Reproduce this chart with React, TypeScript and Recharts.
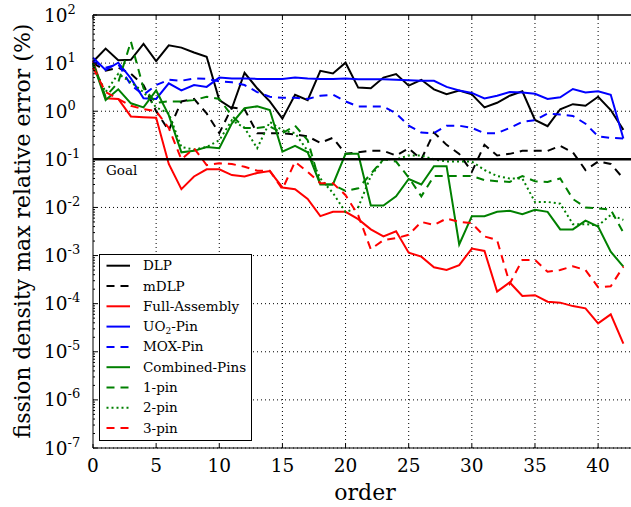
import React from "react";
import { LineChart, Line, XAxis, YAxis, ReferenceLine, Legend, Label } from "recharts";

// expansion order on the x axis
const ORDER = [
  0, 1, 2, 3, 4, 5, 6, 7, 8, 9, 10, 11, 12, 13, 14, 15, 16, 17, 18, 19, 20, 21,
  22, 23, 24, 25, 26, 27, 28, 29, 30, 31, 32, 33, 34, 35, 36, 37, 38, 39, 40, 41, 42,
];

// max relative error (%) per order
const DLP = [
  10.7, 20, 11.5, 11.7, 25, 11, 23.5, 21, 16.6, 13.5, 1.7, 1.15, 6.3, 3.0, 1.6, 0.7, 2.2, 1.7, 6.9, 6.1, 10.2, 3.1,
  3.0, 5.0, 5.9, 3.4, 4.5, 2.85, 2.25, 2.7, 2.25, 1.2, 1.5, 2.1, 2.6, 0.66, 0.49, 1.1, 1.4, 1.3, 2.0, 1.06, 0.41,
];
const MDLP = [
  10, 7, 8, 6, 3.5, 1.0, 0.4, 1.6, 1.8, 0.9, 0.35, 1.2, 1.1, 0.35, 0.35, 0.35, 0.33, 0.3, 0.22, 0.28, 0.13, 0.14,
  0.15, 0.15, 0.12, 0.17, 0.1, 0.36, 0.2, 0.13, 0.055, 0.2, 0.12, 0.13, 0.15, 0.15, 0.15, 0.19, 0.14, 0.06, 0.09, 0.08, 0.04,
];
const FULL_ASSEMBLY = [
  11, 1.85, 1.8, 0.78, 0.75, 0.73, 0.08, 0.024, 0.044, 0.062, 0.062, 0.047, 0.044, 0.052, 0.057, 0.026, 0.024,
  0.015, 0.0066, 0.0081, 0.0081, 0.0057, 0.0035, 0.0025, 0.0032, 0.00115, 0.00095, 0.00057, 0.0005, 0.00063,
  0.0014, 0.00125, 0.000178, 0.000276, 0.000144, 0.00015, 0.00011, 0.000105, 0.000089, 0.00008, 0.000039, 0.00006,
  0.0000148,
];
const UO2_PIN = [
  13, 7.2, 10.2, 4.8, 1.85, 1.8, 3.8, 2.7, 3.5, 3.2, 5.0, 4.8, 4.8, 4.7, 4.7, 4.7, 5.0, 4.8, 4.7, 4.7, 4.8, 4.6,
  4.6, 4.6, 4.5, 4.4, 4.3, 4.3, 3.2, 2.7, 2.4, 1.85, 2.1, 2.5, 2.45, 2.3, 1.8, 1.95, 2.9, 2.45, 2.6, 2.2, 0.27,
];
const MOX_PIN = [
  11, 8, 9.5, 3.5, 2.2, 3.5, 4.5, 4.3, 4.8, 4.7, 4.2, 4.0, 3.5, 2.5, 2.0, 1.9, 1.9, 1.8, 2.1, 2.2, 1.6, 1.25,
  1.25, 1.25, 0.9, 0.5, 0.36, 0.35, 0.5, 0.5, 0.45, 0.35, 0.35, 0.45, 0.6, 0.65, 0.9, 0.85, 0.8, 0.55, 0.3, 0.28, 0.27,
];
const COMBINED_PINS = [
  10, 1.7, 2.85, 1.46, 1.2, 2.7, 0.83, 0.14, 0.15, 0.18, 0.17, 0.56, 1.15, 1.26, 1.06, 0.145, 0.19, 0.14, 0.03,
  0.03, 0.13, 0.13, 0.011, 0.011, 0.017, 0.039, 0.03, 0.072, 0.072, 0.0017, 0.0066, 0.0066, 0.0081, 0.0085,
  0.0072, 0.0089, 0.0081, 0.0035, 0.0035, 0.0053, 0.004, 0.0012, 0.00059,
];
const ONE_PIN = [
  10, 2.0, 4.0, 28, 3.0, 1.5, 1.6, 1.6, 1.7, 2.0, 1.8, 0.8, 0.45, 0.45, 0.48, 0.35, 0.5, 0.25, 0.03, 0.03, 0.022,
  0.025, 0.05, 0.1, 0.09, 0.042, 0.017, 0.045, 0.045, 0.045, 0.045, 0.037, 0.035, 0.034, 0.045, 0.035, 0.034, 0.04,
  0.015, 0.01, 0.0095, 0.009, 0.003,
];
const TWO_PIN = [
  9, 2.5, 6, 4, 2.5, 1.2, 0.9, 0.18, 0.16, 0.18, 0.25, 0.65, 0.45, 0.17, 0.6, 0.4, 0.35, 0.15, 0.04, 0.02, 0.008,
  0.01, 0.045, 0.1, 0.1, 0.12, 0.12, 0.1, 0.09, 0.09, 0.09, 0.06, 0.045, 0.04, 0.04, 0.013, 0.013, 0.012, 0.0045,
  0.0045, 0.0042, 0.007, 0.0055,
];
const THREE_PIN = [
  8, 2.5, 1.8, 1.3, 1.1, 1.0, 0.45, 0.1, 0.17, 0.076, 0.083, 0.08, 0.07, 0.058, 0.058, 0.024, 0.089, 0.055, 0.032,
  0.032, 0.018, 0.0069, 0.00135, 0.0021, 0.0023, 0.0027, 0.005, 0.0043, 0.0059, 0.005, 0.0047, 0.0025, 0.0021,
  0.00026, 0.00081, 0.00081, 0.00046, 0.0005, 0.0006, 0.0005, 0.00022, 0.00023, 0.00059,
];

const X_TICKS = [0, 5, 10, 15, 20, 25, 30, 35, 40];
const Y_EXPONENTS = [2, 1, 0, -1, -2, -3, -4, -5, -6, -7];
const GOAL = 0.1;

const Y_MAJOR = Y_EXPONENTS.map((e) => Number(`1e${e}`));
const Y_MINOR: number[] = [];
Y_EXPONENTS.slice(1).forEach((e) => {
  [2, 3, 4, 5, 6, 7, 8, 9].forEach((m) => Y_MINOR.push(Number(`${m}e${e}`)));
});

const SERIES = [
  { key: "dlp", name: "DLP", values: DLP, color: "#000000", dash: undefined },
  { key: "mdlp", name: "mDLP", values: MDLP, color: "#000000", dash: "8 6" },
  { key: "fa", name: "Full-Assembly", values: FULL_ASSEMBLY, color: "#ff0000", dash: undefined },
  { key: "uo2", name: "UO2-Pin", values: UO2_PIN, color: "#0000ff", dash: undefined },
  { key: "mox", name: "MOX-Pin", values: MOX_PIN, color: "#0000ff", dash: "8 6" },
  { key: "comb", name: "Combined-Pins", values: COMBINED_PINS, color: "#008000", dash: undefined },
  { key: "p1", name: "1-pin", values: ONE_PIN, color: "#008000", dash: "8 6" },
  { key: "p2", name: "2-pin", values: TWO_PIN, color: "#008000", dash: "2 3" },
  { key: "p3", name: "3-pin", values: THREE_PIN, color: "#ff0000", dash: "8 6" },
];

const rows = ORDER.map((o, i) => {
  const row: Record<string, number> = { order: o };
  SERIES.forEach((s) => (row[s.key] = s.values[i]));
  return row;
});

const FONT = "'DejaVu Serif', serif";
const W = 660;
const H = 507;
const LEFT = 93;
const TOP = 15;
const BOTTOM = 448;

const XTick = (props: any) => {
  const { x, payload } = props;
  return (
    <g>
      <line x1={x} x2={x} y1={BOTTOM} y2={BOTTOM - 4} stroke="#000" />
      <line x1={x} x2={x} y1={TOP} y2={TOP + 4} stroke="#000" />
      <text x={x} y={472} textAnchor="middle" fontSize={18.5} fontFamily={FONT} fill="#000">
        {payload.value}
      </text>
    </g>
  );
};

const YTick = (props: any) => {
  const { y, payload } = props;
  const e = Math.log10(payload.value);
  const major = Math.abs(e - Math.round(e)) < 1e-6;
  if (!major) {
    return <line x1={LEFT} x2={LEFT + 2} y1={y} y2={y} stroke="#000" />;
  }
  const exp = Math.round(e);
  return (
    <g>
      <line x1={LEFT} x2={LEFT + 4} y1={y} y2={y} stroke="#000" />
      <text x={44} y={y + 6.5} fontSize={18.5} fontFamily={FONT} fill="#000">
        <tspan>10</tspan>
        <tspan dy={-8} fontSize={13}>
          {exp < 0 ? `-${-exp}` : `${exp}`}
        </tspan>
      </text>
    </g>
  );
};

const LegendBox = () => (
  <svg width={153} height={187} style={{ display: "block" }}>
    <rect x={0.5} y={0.5} width={152} height={186} fill="#fff" stroke="#000" />
    {SERIES.map((s, i) => {
      const cy = 11.7 + i * 20.3;
      return (
        <g key={s.key}>
          <line x1={7.5} x2={31} y1={cy} y2={cy} stroke={s.color} strokeWidth={2} strokeDasharray={s.dash} />
          <text x={44} y={cy + 4.5} fontSize={13.5} fontFamily={FONT} fill="#000">
            {s.key === "uo2" ? (
              <>
                UO
                <tspan dy={3} fontSize={9}>
                  2
                </tspan>
                <tspan dy={-3}>-Pin</tspan>
              </>
            ) : (
              s.name
            )}
          </text>
        </g>
      );
    })}
  </svg>
);

export default function App() {
  return (
    <div
      style={{ position: "absolute", left: 0, top: 0, width: 631, height: 507, overflow: "hidden", background: "#fff" }}
    >
      <LineChart width={W} height={H} data={rows} margin={{ top: TOP, right: 24, left: 0, bottom: 0 }}>
        <XAxis
          dataKey="order"
          type="number"
          domain={[0, 43]}
          ticks={X_TICKS}
          interval={0}
          height={59}
          tickLine={false}
          axisLine={{ stroke: "#000" }}
          tick={<XTick />}
        >
          <Label
            content={() => (
              <text x={365} y={500} textAnchor="middle" fontSize={22} fontFamily={FONT} fill="#000">
                order
              </text>
            )}
          />
        </XAxis>
        <YAxis
          type="number"
          scale="log"
          domain={[1e-7, 100]}
          allowDataOverflow
          ticks={[...Y_MAJOR, ...Y_MINOR]}
          interval={0}
          width={LEFT}
          tickLine={false}
          axisLine={{ stroke: "#000" }}
          tick={<YTick />}
        >
          <Label
            content={() => (
              <text
                x={22}
                y={231}
                transform="rotate(-90 22 231)"
                textAnchor="middle"
                dominantBaseline="central"
                fontSize={22}
                fontFamily={FONT}
                fill="#000"
              >
                fission density max relative error (%)
              </text>
            )}
          />
        </YAxis>

        {/* dotted grid */}
        {Y_MAJOR.slice(1).map((v) => (
          <ReferenceLine key={`gy${v}`} y={v} stroke="#000" strokeWidth={1} strokeDasharray="1 3" />
        ))}
        {X_TICKS.slice(1).map((v) => (
          <ReferenceLine key={`gx${v}`} x={v} stroke="#000" strokeWidth={1} strokeDasharray="1 3" />
        ))}
        <ReferenceLine y={100} stroke="#000" strokeWidth={1.5} />

        {SERIES.map((s) => (
          <Line
            key={s.key}
            type="linear"
            dataKey={s.key}
            name={s.name}
            stroke={s.color}
            strokeWidth={2}
            strokeDasharray={s.dash}
            dot={false}
            isAnimationActive={false}
          />
        ))}

        <ReferenceLine
          y={GOAL}
          stroke="#000"
          strokeWidth={2.5}
          label={{
            content: () => (
              <text x={106} y={175} fontSize={13.5} fontFamily={FONT} fill="#000">
                Goal
              </text>
            ),
          }}
        />

        <Legend
          layout="vertical"
          align="center"
          verticalAlign="middle"
          content={() => <LegendBox />}
          wrapperStyle={{ left: 99, top: 254, width: 153, height: 187 }}
        />
      </LineChart>
    </div>
  );
}
